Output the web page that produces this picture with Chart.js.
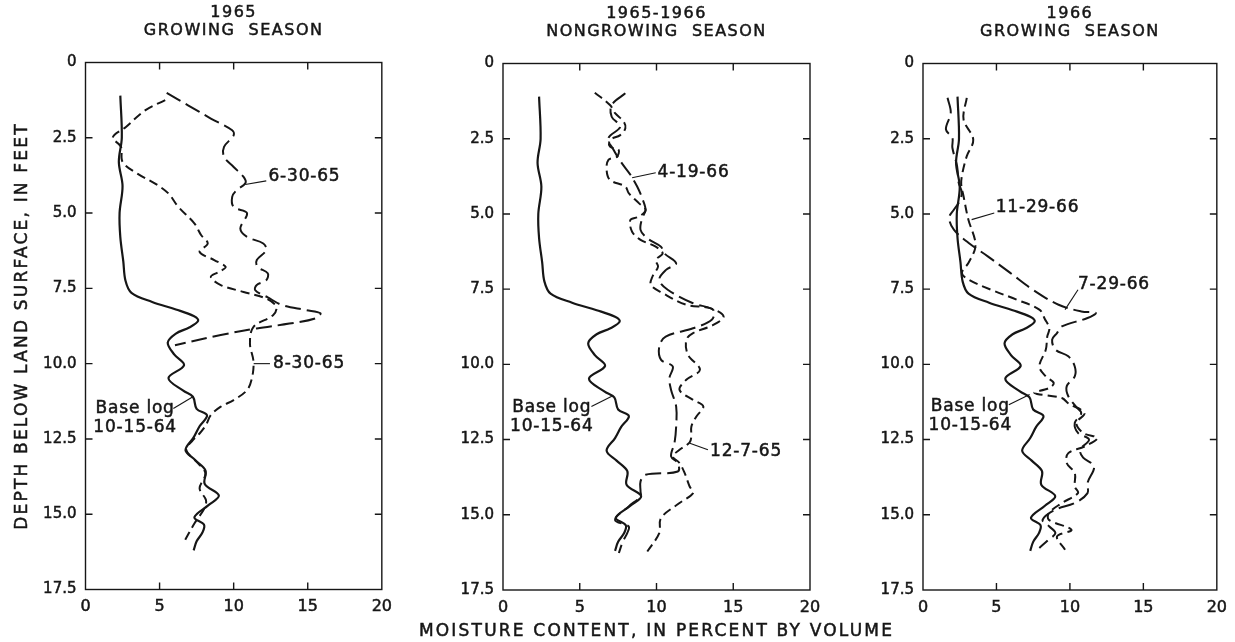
<!DOCTYPE html>
<html>
<head>
<meta charset="utf-8">
<script src="https://cdn.jsdelivr.net/npm/chart.js@4.4.1/dist/chart.umd.min.js"></script>
<style>
  html, body { margin: 0; padding: 0; background: #fff; }
  #wrap { position: relative; width: 1235px; height: 642px; overflow: hidden; background: #fff; }
  #wrap canvas { position: absolute; top: 0; }
</style>
</head>
<body>
<div id="wrap">
  <canvas id="c1" width="400" height="642" style="left:0px"></canvas>
  <canvas id="c2" width="520" height="642" style="left:405px"></canvas>
  <canvas id="c3" width="400" height="642" style="left:835px"></canvas>
</div>
<script>
// ---- axes ----
const xTickValues = [0, 5, 10, 15, 20];
const xTickLabels = ['0', '5', '10', '15', '20'];
const yTickValues = [0, 2.5, 5, 7.5, 10, 12.5, 15, 17.5];
const yTickLabels = ['0', '2.5', '5.0', '7.5', '10.0', '12.5', '15.0', '17.5'];

const panelTitles = [
  ['1965', 'GROWING  SEASON'],
  ['1965-1966', 'NONGROWING  SEASON'],
  ['1966', 'GROWING  SEASON']
];
const yAxisTitle = 'DEPTH BELOW LAND SURFACE, IN FEET';
const xAxisTitle = 'MOISTURE CONTENT, IN PERCENT BY VOLUME';

// ---- base log 10-15-64 (shown in every panel) ----
const baseDepth = [1.1, 2.5, 3.3, 4.1, 5.0, 5.8, 6.6, 7.25, 7.65, 7.95, 8.2, 8.42, 8.58, 8.8, 9.0, 9.3, 9.7, 10.05, 10.48, 10.9, 11.1, 11.5, 11.72, 12.08, 12.45, 12.87, 13.2, 13.55, 14.0, 14.38, 14.7, 15.1, 15.35, 15.6, 15.9, 16.2];
const baseMoist = [2.35, 2.45, 2.25, 2.5, 2.3, 2.35, 2.55, 2.7, 3.1, 4.5, 6.1, 7.3, 7.6, 7.0, 6.1, 5.55, 6.0, 6.65, 5.6, 6.6, 7.25, 7.5, 8.2, 7.7, 7.3, 6.75, 7.4, 8.1, 8.05, 9.0, 8.3, 7.35, 8.0, 7.9, 7.5, 7.3];

// ---- 1965 growing season ----
const log063065Depth = [1.01, 1.42, 1.86, 2.25, 2.42, 2.8, 3.13, 3.47, 3.8, 4.0, 4.24, 4.46, 4.8, 5.0, 5.51, 5.79, 6.01, 6.23, 6.56, 6.78, 7.0, 7.23, 7.39, 7.56, 7.8, 8.06, 8.22, 8.33, 8.5, 8.67, 8.83, 9.05, 9.39];
const log063065Moist = [5.48, 6.92, 8.46, 9.9, 10.0, 9.35, 9.35, 10.0, 10.67, 10.8, 10.2, 9.9, 10.0, 10.9, 10.45, 10.9, 12.0, 12.2, 11.56, 11.6, 12.3, 12.2, 11.56, 11.45, 12.3, 13.3, 14.87, 15.86, 15.5, 13.76, 11.56, 9.13, 6.04];

const log083065Depth = [1.25, 1.58, 2.14, 2.49, 2.8, 3.3, 3.69, 4.02, 4.35, 4.79, 5.35, 5.73, 6.01, 6.29, 6.56, 6.79, 6.95, 7.12, 7.39, 7.62, 7.84, 8.11, 8.39, 8.78, 9.33, 9.94, 10.49, 10.88, 11.21, 11.43, 11.71, 12.04, 12.32, 12.54, 12.87, 13.31, 13.65, 14.14, 14.53, 14.8, 15.3, 15.97];
const log083065Moist = [5.38, 4.05, 2.73, 1.84, 2.4, 2.5, 3.5, 4.7, 5.6, 6.26, 7.36, 7.8, 8.25, 7.7, 8.69, 9.46, 9.02, 8.46, 9.13, 10.67, 12.2, 12.88, 12.66, 11.34, 11.1, 11.34, 11.23, 10.9, 10.0, 9.13, 8.46, 8.13, 7.7, 7.25, 6.8, 7.6, 8.1, 7.7, 8.13, 8.03, 7.36, 6.59];

// ---- 1965-1966 nongrowing season ----
const log041966Depth = [0.99, 1.38, 1.77, 2.1, 2.48, 2.87, 3.32, 3.7, 4.09, 4.48, 4.87, 5.14, 5.53, 5.81, 6.09, 6.31, 6.64, 6.86, 7.19, 7.52, 7.97, 8.19, 8.52, 8.8, 9.08, 9.41, 9.85, 10.07, 10.46, 10.85, 11.4, 12.07, 12.62, 13.06, 13.28, 13.56, 13.67, 13.89, 14.22, 14.39, 14.72, 15.17, 15.39, 15.6, 15.9, 16.27];
const log041966Moist = [7.97, 7.08, 7.08, 7.64, 6.87, 7.2, 7.75, 8.3, 8.74, 9.07, 9.29, 9.07, 8.96, 9.4, 10.29, 10.51, 11.28, 10.62, 10.18, 10.73, 12.38, 13.7, 13.6, 12.38, 10.6, 10.18, 10.3, 11.06, 10.84, 10.95, 11.28, 11.28, 11.17, 10.95, 11.39, 11.39, 9.29, 8.96, 8.96, 8.96, 8.19, 7.3, 8.19, 8.1, 7.8, 7.55];

const log120765Depth = [0.97, 1.38, 1.65, 1.93, 2.15, 2.38, 2.54, 2.76, 2.87, 3.1, 3.2, 3.54, 3.87, 4.09, 4.31, 4.64, 4.87, 5.09, 5.2, 5.59, 5.86, 6.09, 6.31, 6.53, 6.75, 7.08, 7.36, 7.63, 8.02, 8.13, 8.41, 8.69, 8.96, 9.19, 9.68, 10.18, 10.51, 10.85, 11.18, 11.4, 11.73, 12.07, 12.4, 12.6, 12.84, 13.06, 13.28, 13.61, 14.06, 14.28, 14.61, 15.11, 15.61, 16.22];
const log120765Moist = [5.98, 6.97, 7.3, 7.86, 7.97, 7.64, 6.97, 6.97, 7.53, 7.42, 6.87, 6.75, 6.97, 7.97, 8.19, 8.85, 9.29, 8.85, 8.3, 8.41, 8.96, 9.95, 10.4, 9.95, 10.1, 9.74, 9.63, 10.4, 11.94, 13.49, 14.37, 13.7, 12.38, 11.94, 12.05, 12.83, 11.94, 11.5, 12.38, 13.05, 12.6, 12.27, 12.27, 12.15, 11.5, 11.06, 11.5, 11.83, 12.16, 12.38, 11.5, 10.29, 10.18, 9.4];

// ---- 1966 growing season ----
const log072966Depth = [1.14, 1.64, 2.19, 2.47, 2.8, 3.41, 3.97, 4.3, 4.63, 4.86, 5.13, 5.52, 5.96, 6.41, 6.96, 7.52, 8.02, 8.24, 8.29, 8.46, 8.74, 8.96, 9.18, 9.51, 9.73, 10.07, 10.4, 10.73, 11.06, 11.4, 11.62, 11.95, 12.28, 12.5, 12.84, 13.1, 13.39, 13.94, 14.28, 14.61, 14.83, 15.17, 15.39, 15.61, 15.85, 16.1];
const log072966Moist = [1.67, 1.89, 1.56, 2.0, 2.0, 2.32, 2.43, 2.65, 2.43, 2.1, 1.78, 2.1, 3.09, 4.41, 5.94, 7.48, 9.23, 10.77, 11.76, 11.2, 9.45, 9.12, 8.79, 9.01, 9.89, 10.33, 10.33, 9.78, 9.89, 10.4, 10.77, 10.33, 10.55, 11.3, 10.7, 10.9, 11.64, 11.2, 11.2, 10.33, 9.01, 8.14, 8.6, 9.01, 8.5, 7.92];

const log112966Depth = [1.14, 1.86, 2.53, 3.08, 3.6, 4.0, 4.41, 5.19, 5.85, 6.18, 6.63, 6.96, 7.18, 7.52, 7.85, 8.18, 8.5, 8.8, 9.07, 9.51, 10.07, 10.4, 10.62, 10.79, 10.95, 11.12, 11.3, 11.62, 11.95, 12.28, 12.45, 12.73, 12.95, 13.28, 13.61, 14.06, 14.28, 14.61, 14.94, 15.17, 15.5, 15.72, 16.16];
const log112966Moist = [2.98, 2.76, 3.42, 2.98, 2.7, 2.6, 2.76, 3.09, 3.53, 3.53, 3.09, 2.65, 3.09, 4.63, 6.38, 7.92, 8.3, 8.6, 8.46, 8.36, 7.92, 8.36, 8.9, 8.57, 7.59, 9.45, 9.9, 10.99, 10.44, 10.9, 11.86, 10.99, 9.89, 9.78, 10.33, 10.33, 10.55, 9.45, 8.57, 8.57, 10.11, 9.12, 9.67];

// ---- styling ----
const INK = '#161616';
const FONT = "'DejaVu Sans', sans-serif";
const SOLID = [];
const LONG_DASH = [16, 6];
const SHORT_DASH = [9, 5];
const TICK_IN = 7;

function toPoints(depth, moist) {
  return depth.map((d, i) => ({ x: moist[i], y: d }));
}

function curve(depth, moist, dash, width) {
  return {
    data: toPoints(depth, moist),
    showLine: true,
    borderColor: INK,
    borderWidth: width,
    borderDash: dash,
    pointRadius: 0,
    tension: 0.35,
    fill: false
  };
}

// text with leader lines, positioned in data units
const panelNotes = [
  [
    { lines: ['6-30-65'], m: 12.35, d: 3.8, align: 'left', leader: [10.78, 4.05, 12.2, 3.93] },
    { lines: ['8-30-65'], m: 12.66, d: 9.99, align: 'left', leader: [11.35, 10.0, 12.45, 10.0] },
    { lines: ['Base log', '10-15-64'], m: 3.35, d: 11.49, align: 'center', leader: [5.93, 11.49, 7.25, 11.1] }
  ],
  [
    { lines: ['4-19-66'], m: 10.07, d: 3.61, align: 'left', leader: [8.41, 3.8, 9.95, 3.63] },
    { lines: ['12-7-65'], m: 13.49, d: 12.9, align: 'left', leader: [12.17, 12.62, 13.35, 12.84] },
    { lines: ['Base log', '10-15-64'], m: 3.18, d: 11.42, align: 'center', leader: [5.76, 11.4, 7.09, 11.06] }
  ],
  [
    { lines: ['11-29-66'], m: 4.95, d: 4.8, align: 'left', leader: [3.31, 5.19, 4.85, 4.97] },
    { lines: ['7-29-66'], m: 10.55, d: 7.35, align: 'left', leader: [9.67, 8.18, 10.55, 7.52] },
    { lines: ['Base log', '10-15-64'], m: 3.22, d: 11.4, align: 'center', leader: [5.84, 11.34, 7.26, 11.0] }
  ]
];

function boldText(ctx, text, x, y) {
  ctx.fillText(text, x, y);
  ctx.strokeText(text, x, y);
}

// frame, inward ticks, titles and notes
const decorations = {
  id: 'decorations',
  afterDraw(chart, args, opts) {
    const { ctx, chartArea: a, scales } = chart;
    const x = scales.x, y = scales.y;
    ctx.save();
    ctx.strokeStyle = INK;
    ctx.fillStyle = INK;
    ctx.lineWidth = 1.4;
    ctx.strokeRect(a.left, a.top, a.right - a.left, a.bottom - a.top);
    ctx.beginPath();
    xTickValues.slice(1, -1).forEach(v => {
      const px = x.getPixelForValue(v);
      ctx.moveTo(px, a.top); ctx.lineTo(px, a.top + TICK_IN);
      ctx.moveTo(px, a.bottom); ctx.lineTo(px, a.bottom - TICK_IN);
    });
    yTickValues.slice(1, -1).forEach(v => {
      const py = y.getPixelForValue(v);
      ctx.moveTo(a.left, py); ctx.lineTo(a.left + TICK_IN, py);
      ctx.moveTo(a.right, py); ctx.lineTo(a.right - TICK_IN, py);
    });
    ctx.stroke();

    const cx = (a.left + a.right) / 2;
    ctx.textAlign = 'center';
    ctx.textBaseline = 'middle';
    ctx.lineWidth = 0.5;
    ctx.font = '16px ' + FONT;
    ctx.letterSpacing = '1.5px';
    boldText(ctx, opts.title[0], cx, a.top - 50);
    boldText(ctx, opts.title[1], cx, a.top - 32);

    ctx.font = '17px ' + FONT;
    ctx.letterSpacing = '2.2px';
    if (opts.yTitle) {
      ctx.save();
      ctx.translate(23, (a.top + a.bottom) / 2);
      ctx.rotate(-Math.PI / 2);
      boldText(ctx, opts.yTitle, 0, 0);
      ctx.restore();
    }
    if (opts.xTitle) {
      boldText(ctx, opts.xTitle, cx, 632);
    }

    ctx.font = '17px ' + FONT;
    ctx.letterSpacing = '0.8px';
    opts.notes.forEach(n => {
      const [m1, d1, m2, d2] = n.leader;
      ctx.lineWidth = 1.1;
      ctx.beginPath();
      ctx.moveTo(x.getPixelForValue(m1), y.getPixelForValue(d1));
      ctx.lineTo(x.getPixelForValue(m2), y.getPixelForValue(d2));
      ctx.stroke();
      ctx.lineWidth = 0.5;
      ctx.textAlign = n.align;
      const tx = x.getPixelForValue(n.m);
      const ty = y.getPixelForValue(n.d);
      n.lines.forEach((line, i) => boldText(ctx, line, tx, ty + i * 19.5));
    });
    ctx.restore();
  }
};

function makePanel(id, idx, datasets, geom, extra) {
  const el = document.getElementById(id);
  return new Chart(el, {
    type: 'scatter',
    data: { datasets },
    plugins: [decorations],
    options: {
      responsive: false,
      maintainAspectRatio: false,
      animation: false,
      events: [],
      layout: { padding: { left: 0, right: geom.right, top: geom.top, bottom: 0 } },
      plugins: {
        legend: { display: false },
        tooltip: { enabled: false },
        decorations: Object.assign({ title: panelTitles[idx], notes: panelNotes[idx] }, extra)
      },
      scales: {
        x: {
          type: 'linear', position: 'bottom', min: 0, max: 20,
          afterBuildTicks: s => { s.ticks = xTickValues.map(v => ({ value: v })); },
          afterFit: s => { s.height = geom.xHeight; },
          grid: { display: false, drawTicks: false },
          border: { display: false },
          ticks: {
            padding: 8, color: INK, font: { family: FONT, size: 16 },
            textStrokeColor: INK, textStrokeWidth: 0.5,
            callback: v => xTickLabels[xTickValues.indexOf(v)]
          }
        },
        y: {
          type: 'linear', reverse: true, min: 0, max: 17.5,
          afterBuildTicks: s => { s.ticks = yTickValues.map(v => ({ value: v })); },
          afterFit: s => { s.width = geom.yWidth; },
          grid: { display: false, drawTicks: false },
          border: { display: false },
          ticks: {
            padding: 9, color: INK, font: { family: FONT, size: 15 },
            textStrokeColor: INK, textStrokeWidth: 0.5,
            callback: v => yTickLabels[yTickValues.indexOf(v)]
          }
        }
      }
    }
  });
}

const baseCurve = () => curve(baseDepth, baseMoist, SOLID, 2.2);

makePanel('c1', 0, [
  baseCurve(),
  curve(log063065Depth, log063065Moist, LONG_DASH, 2),
  curve(log083065Depth, log083065Moist, SHORT_DASH, 2)
], { yWidth: 85.5, right: 12, top: 62.5, xHeight: 52.5 }, { yTitle: yAxisTitle });

makePanel('c2', 1, [
  baseCurve(),
  curve(log041966Depth, log041966Moist, LONG_DASH, 2),
  curve(log120765Depth, log120765Moist, SHORT_DASH, 2)
], { yWidth: 98, right: 115, top: 63.5, xHeight: 52 }, { xTitle: xAxisTitle });

makePanel('c3', 2, [
  baseCurve(),
  curve(log072966Depth, log072966Moist, LONG_DASH, 2),
  curve(log112966Depth, log112966Moist, SHORT_DASH, 2)
], { yWidth: 88, right: 10, top: 63.5, xHeight: 52 }, {});
</script>
</body>
</html>
